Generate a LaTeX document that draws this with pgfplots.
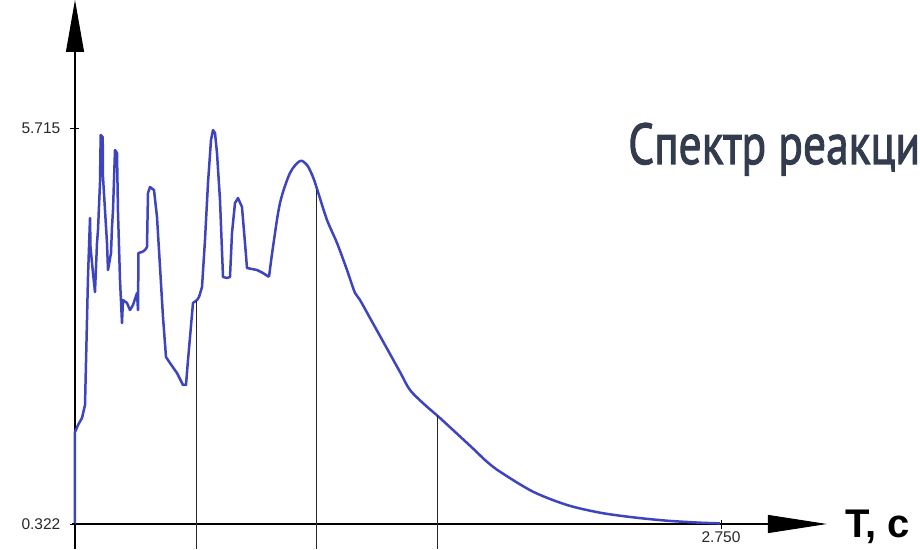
\documentclass[border=0pt]{standalone}
\usepackage{pgfplots}
\pgfplotsset{compat=1.18}
\usepackage{fontspec}
\setmainfont{Liberation Sans}
\newfontfamily\titlefont[FakeBold=2]{PT Sans}
\usetikzlibrary{arrows.meta}
\definecolor{curve}{RGB}{62,68,190}
\definecolor{titlec}{RGB}{50,60,78}
\definecolor{tickc}{RGB}{40,40,40}
\begin{document}
\begin{tikzpicture}
\begin{axis}[
  x=234.9pt, y=73.43pt,
  xmin=0, xmax=3.201, ymin=0.322, ymax=7.458,
  axis lines=left,
  clip=false,
  x axis line style={line width=1.1pt, -{Triangle[length=59pt,width=18pt]}},
  y axis line style={line width=1.1pt, -{Triangle[length=52pt,width=18pt]}},
  xtick={2.75}, xticklabels={2.750},
  ytick={0.322,5.715}, yticklabels={0.322,5.715},
  tick align=center, major tick length=9pt,
  tick style={black, line width=0.8pt},
  ticklabel style={font=\fontsize{15.5}{17}\selectfont, text=tickc},
  yticklabel style={anchor=east, inner sep=0pt, xshift=-10pt},
  xticklabel style={anchor=north, inner sep=0pt, yshift=-3pt},
]
\addplot[curve, line width=2.5pt, line join=round] coordinates {
(0,0.322) (0,1.575) (0.0128,1.670) (0.0298,1.765) (0.0426,1.943) (0.0498,2.923)
(0.0553,3.686) (0.0639,4.489) (0.066,4.094) (0.0766,3.740) (0.0851,3.481)
(0.0937,4.149) (0.0979,4.326) (0.1064,4.966) (0.1094,5.619) (0.1179,5.592)
(0.1192,5.047) (0.1362,4.149) (0.1405,3.781) (0.1533,4.013) (0.1575,4.366)
(0.1618,4.598) (0.1703,5.415) (0.1788,5.374) (0.1831,4.557) (0.1916,3.645)
(0.2001,3.059) (0.2043,3.372) (0.2214,3.332) (0.2341,3.236) (0.2469,3.304)
(0.2639,3.468) (0.2682,3.236) (0.2703,4.013) (0.2852,4.026) (0.2980,4.053)
(0.3065,4.094) (0.3108,4.830) (0.3193,4.911) (0.3363,4.870) (0.3491,4.503)
(0.3619,3.822) (0.3746,3.141) (0.3874,2.596) (0.4044,2.514) (0.4342,2.378)
(0.4598,2.215) (0.4725,2.215) (0.4811,2.555) (0.5023,3.332) (0.5194,3.372)
(0.5279,3.413) (0.5407,3.549) (0.5534,4.190) (0.5662,4.966) (0.5790,5.551)
(0.5875,5.687) (0.5960,5.646) (0.6045,5.374) (0.6173,4.734) (0.6301,3.686)
(0.6471,3.672) (0.6598,3.686) (0.6684,4.285) (0.6811,4.693) (0.6939,4.761)
(0.7109,4.639) (0.7237,4.149) (0.7322,3.808) (0.7748,3.781) (0.8003,3.740)
(0.8259,3.686)
};
\addplot[curve, line width=2.5pt, smooth, tension=0.5, line join=round] coordinates {
(0.8259,3.686) (0.8429,4.094) (0.8727,4.693) (0.9153,5.102) (0.9579,5.265)
(0.9877,5.211) (1.0132,5.047) (1.0345,4.843) (1.0728,4.462) (1.1154,4.149)
(1.1579,3.781) (1.1920,3.468) (1.2133,3.372) (1.2559,3.127) (1.3197,2.760)
(1.3836,2.392) (1.4261,2.147) (1.4900,1.943) (1.5539,1.765) (1.6943,1.350)
(1.7500,1.180) (1.8093,1.034) (1.9498,0.762) (2.0945,0.581) (2.2350,0.476)
(2.3755,0.413) (2.5202,0.367) (2.6607,0.340) (2.7459,0.331)
};
\addplot[black!85, line width=0.9pt] coordinates {(0.515,-0.018) (0.515,3.36)};
\addplot[black!85, line width=0.9pt] coordinates {(1.030,-0.018) (1.030,4.87)};
\addplot[black!85, line width=0.9pt] coordinates {(1.545,-0.018) (1.545,1.79)};
\addplot[black, line width=1.1pt] coordinates {(0,-0.018) (0,0.322)};
\addplot[black, line width=1.1pt] coordinates {(-0.013,0.322) (0,0.322)};
\coordinate (O) at (axis cs:0,0.322);
\end{axis}
\node[anchor=base west, inner sep=0pt, font=\fontsize{40}{44}\selectfont\bfseries] at ([shift={(770pt,-13pt)}]O) {T, c};
\node[anchor=base west, inner sep=0pt, text=titlec] at ([shift={(553pt,360pt)}]O) {\resizebox{292pt}{41pt}{\titlefont Спектр реакци}};
\pgfresetboundingbox
\path[use as bounding box] ([shift={(-75pt,-25pt)}]O) rectangle ([shift={(845pt,524pt)}]O);
\end{tikzpicture}
\end{document}
